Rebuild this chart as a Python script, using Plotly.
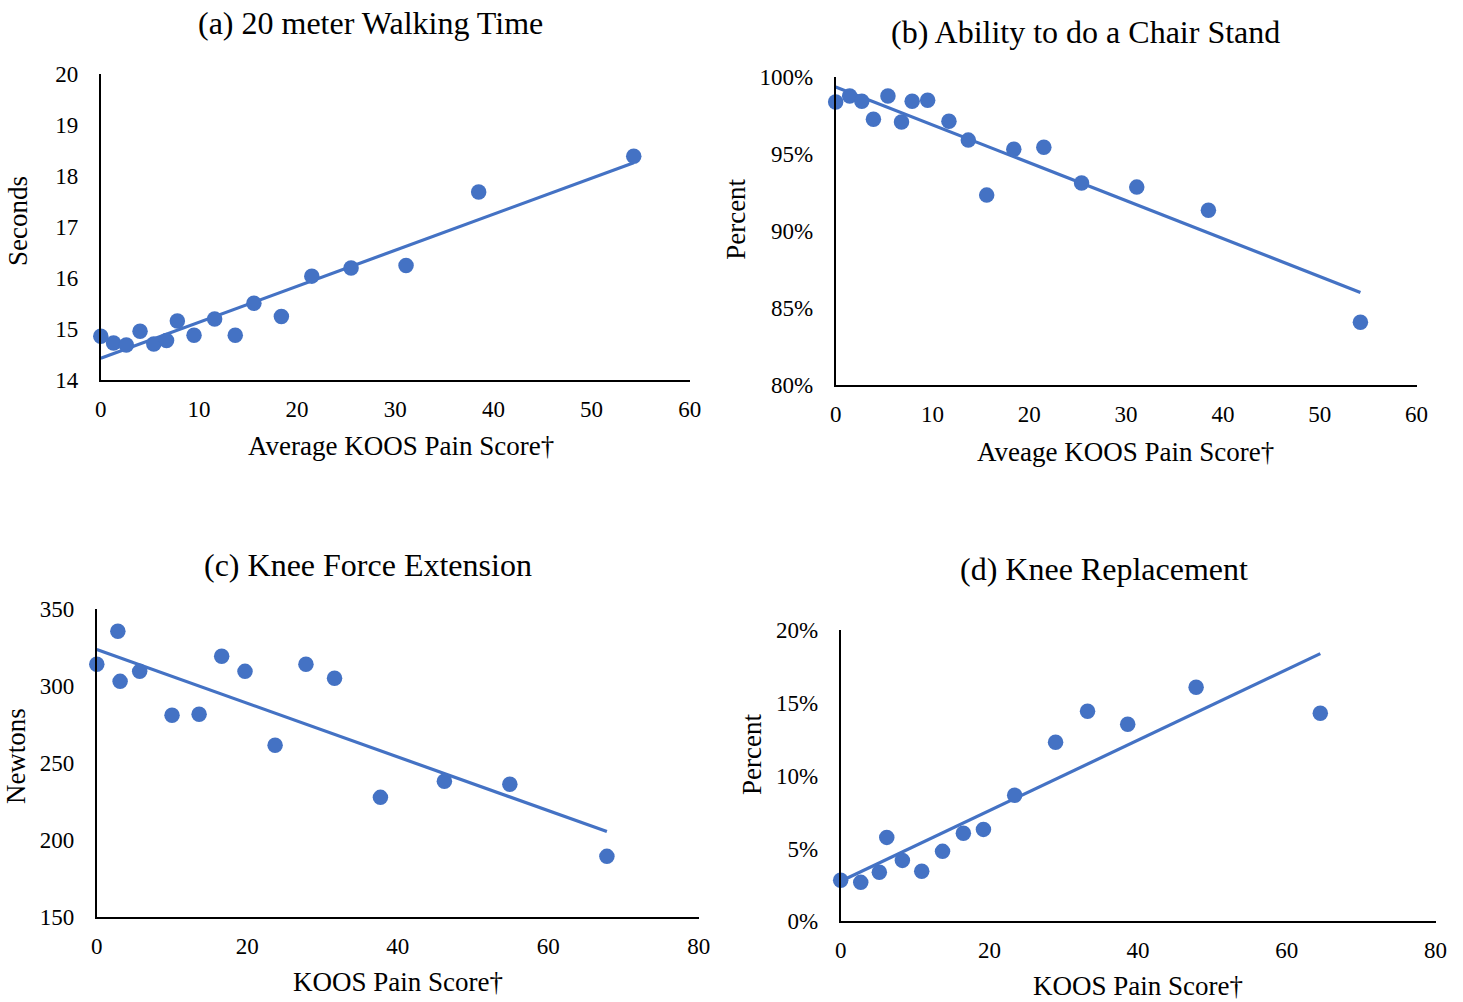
import numpy as np
import plotly.graph_objects as go

# ---- data ----
walk_x = [0, 1.3, 2.6, 4.0, 5.4, 6.7, 7.8, 9.5, 11.6, 13.7, 15.6, 18.4, 21.5, 25.5, 31.1, 38.5, 54.3]
walk_y = [14.86, 14.73, 14.69, 14.96, 14.71, 14.78, 15.16, 14.88, 15.20, 14.88, 15.51, 15.25, 16.04, 16.20, 16.25, 17.69, 18.39]

chair_x = [0, 1.45, 2.7, 3.9, 5.4, 6.8, 7.9, 9.5, 11.7, 13.7, 15.6, 18.4, 21.5, 25.4, 31.1, 38.5, 54.2]
chair_y = [98.38, 98.77, 98.44, 97.27, 98.77, 97.08, 98.44, 98.50, 97.14, 95.91, 92.34, 95.32, 95.45, 93.12, 92.86, 91.36, 84.09]

force_x = [0, 2.8, 3.1, 5.7, 10.0, 13.6, 16.6, 19.7, 23.7, 27.8, 31.6, 37.7, 46.2, 54.9, 67.8]
force_y = [314.3, 335.7, 303.2, 309.7, 281.2, 281.8, 319.5, 309.7, 261.7, 314.3, 305.2, 227.9, 238.3, 236.4, 189.6]

knee_x = [0, 2.7, 5.2, 6.2, 8.3, 10.9, 13.7, 16.5, 19.2, 23.4, 28.9, 33.2, 38.6, 47.8, 64.5]
knee_y = [2.82, 2.68, 3.37, 5.77, 4.19, 3.44, 4.81, 6.05, 6.32, 8.66, 12.30, 14.43, 13.54, 16.08, 14.30]

titles = ["(a) 20 meter Walking Time", "(b) Ability to do a Chair Stand",
          "(c) Knee Force Extension", "(d) Knee Replacement"]
xtitles = ["Average KOOS Pain Score†", "Aveage KOOS Pain Score†",
           "KOOS Pain Score†", "KOOS Pain Score†"]
ytitles = ["Seconds", "Percent", "Newtons", "Percent"]

MARG = 0  # body margin removed by post_script below
W, H = 1480, 1020
BLUE = "#4472C4"
FONT = "Liberation Serif, Times New Roman, serif"

# empirical mapping from page pixels to the photographed picture
SX, AX = 0.988, 5.2
SY, AY = 0.9752, 12.9

def px(x):
    page = (x - AX) / SX
    return (page - MARG) / W

def py(y):
    page = (y - AY) / SY
    return 1 - (page - MARG) / H

# plot areas in picture pixels: (left, right, top, bottom)
areas = [(100, 689, 75, 381), (835, 1416, 78, 386), (96, 698, 610, 918), (840, 1435, 631, 922)]

fig = go.Figure()
series = [(walk_x, walk_y), (chair_x, chair_y), (force_x, force_y), (knee_x, knee_y)]
for i, (xs, ys) in enumerate(series):
    n = "" if i == 0 else str(i + 1)
    xa, ya = "x" + n, "y" + n
    slope, icpt = np.polyfit(xs, ys, 1)
    lx = [min(xs), max(xs)]
    ly = [icpt + slope * v for v in lx]
    fig.add_trace(go.Scatter(x=lx, y=ly, mode="lines", line=dict(color=BLUE, width=3.2),
                             xaxis=xa, yaxis=ya, showlegend=False, hoverinfo="skip"))
    fig.add_trace(go.Scatter(x=xs, y=ys, mode="markers", marker=dict(color=BLUE, size=15.5),
                             xaxis=xa, yaxis=ya, showlegend=False, cliponaxis=False))

xranges = [[0, 60], [0, 60], [0, 80], [0, 80]]
xdticks = [10, 10, 20, 20]
yranges = [[14, 20], [80, 100], [150, 350], [0, 20]]
ydticks = [1, 5, 50, 5]
ysuffix = ["", "%", "", "%"]

layout = dict(width=W, height=H, margin=dict(l=0, r=0, t=0, b=0),
              paper_bgcolor="white", plot_bgcolor="white",
              font=dict(family=FONT, size=23, color="black"))
annotations = []
tpos = [(370, 24), (1085, 33), (367, 566), (1103, 570)]
xtpos = [(400, 447), (1125, 453), (397, 983), (1137, 987)]
ytpos = [(17, 222), (735, 220), (16, 757), (752, 755)]
for i in range(4):
    n = "" if i == 0 else str(i + 1)
    l, r, t, b = areas[i]
    layout["xaxis" + n] = dict(domain=[px(l), px(r)], range=xranges[i], dtick=xdticks[i], tick0=0,
                               showgrid=False, zeroline=False, showline=True, linecolor="black",
                               linewidth=2, ticks="", ticklabelstandoff=7,
                               anchor="y" + n, tickfont=dict(size=23))
    layout["yaxis" + n] = dict(domain=[py(b), py(t)], range=yranges[i], dtick=ydticks[i], tick0=0,
                               showgrid=False, zeroline=False, showline=True, linecolor="black",
                               linewidth=2, ticks="", ticklabelstandoff=16, ticksuffix=ysuffix[i],
                               anchor="x" + n, tickfont=dict(size=23))
    annotations.append(dict(text=titles[i], x=px(tpos[i][0]), y=py(tpos[i][1]), xref="paper", yref="paper",
                            showarrow=False, font=dict(size=32), xanchor="center", yanchor="middle"))
    annotations.append(dict(text=xtitles[i], x=px(xtpos[i][0]), y=py(xtpos[i][1]), xref="paper", yref="paper",
                            showarrow=False, font=dict(size=27), xanchor="center", yanchor="middle"))
    annotations.append(dict(text=ytitles[i], x=px(ytpos[i][0]), y=py(ytpos[i][1]), xref="paper", yref="paper",
                            showarrow=False, font=dict(size=27), textangle=-90,
                            xanchor="center", yanchor="middle"))
layout["annotations"] = annotations
fig.update_layout(**layout)
fig.write_html("out.html", config={"displayModeBar": False},
               post_script="document.body.style.margin='0';document.body.style.overflow='hidden';")
